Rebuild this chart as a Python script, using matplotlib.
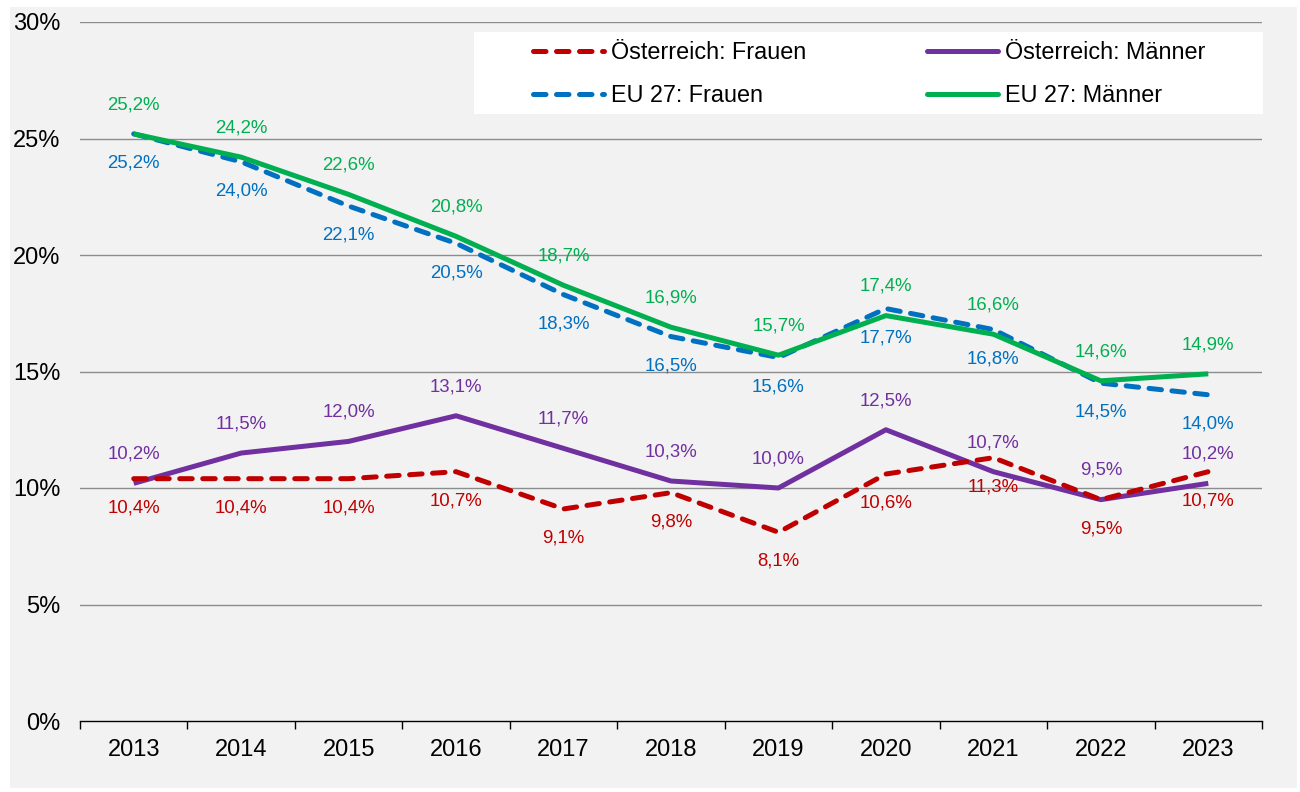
import matplotlib
matplotlib.use("Agg")
import matplotlib.pyplot as plt
from matplotlib.patches import Rectangle
from matplotlib.lines import Line2D

years = ["2013", "2014", "2015", "2016", "2017", "2018", "2019", "2020", "2021", "2022", "2023"]
at_frauen = [10.4, 10.4, 10.4, 10.7, 9.1, 9.8, 8.1, 10.6, 11.3, 9.5, 10.7]
at_maenner = [10.2, 11.5, 12.0, 13.1, 11.7, 10.3, 10.0, 12.5, 10.7, 9.5, 10.2]
eu_frauen = [25.2, 24.0, 22.1, 20.5, 18.3, 16.5, 15.6, 17.7, 16.8, 14.5, 14.0]
eu_maenner = [25.2, 24.2, 22.6, 20.8, 18.7, 16.9, 15.7, 17.4, 16.6, 14.6, 14.9]
yticks = [0, 5, 10, 15, 20, 25, 30]

plt.rcParams['font.family'] = ['Liberation Sans', 'DejaVu Sans']

W, H = 1300, 792
fig = plt.figure(figsize=(W / 100, H / 100), dpi=100, facecolor="white")
bg = "#f2f2f2"
fig.patches.append(Rectangle((10 / W, 1 - 788 / H), (1297 - 10) / W, (788 - 7) / H,
                             transform=fig.transFigure, facecolor=bg, edgecolor="none", zorder=-5))

ax = fig.add_axes([80 / W, 1 - 721 / H, (1262 - 80) / W, (721 - 22) / H])
ax.set_zorder(2)
ax.patch.set_visible(False)
x = list(range(len(years)))

red, purple, blue, green = "#C00000", "#7030A0", "#0070C0", "#00B050"
lw = 3.6
dash = (2.5, 2.1)
series = [
    ("Österreich: Männer", at_maenner, purple, "-", 1),
    ("Österreich: Frauen", at_frauen, red, "--", -1),
    ("EU 27: Frauen", eu_frauen, blue, "--", -1),
    ("EU 27: Männer", eu_maenner, green, "-", 1),
]
styles = {}
for name, vals, col, ls, side in series:
    if ls == "--":
        ax.plot(x, vals, color=col, lw=lw, dashes=dash, dash_capstyle="round",
                dash_joinstyle="miter", zorder=3)
    else:
        ax.plot(x, vals, color=col, lw=lw, solid_capstyle="butt", zorder=3)
    styles[name] = (col, ls)
    for xi, v in zip(x, vals):
        ax.annotate(f"{v:.1f}%".replace(".", ","), (xi, v), xytext=(0, 21 * side),
                    textcoords="offset points", ha="center", va="center",
                    fontsize=13.4, color=col, zorder=4)

ax.set_xlim(-0.5, len(years) - 0.5)
ax.set_ylim(0, 30)
ax.set_yticks(yticks)
ax.set_yticklabels([f"{t}%" for t in yticks])
ax.set_xticks(x)
ax.set_xticklabels(years)
ax.set_xticks([i - 0.5 for i in range(len(years) + 1)], minor=True)
ax.tick_params(axis="x", which="major", length=0, pad=13, labelsize=17)
ax.tick_params(axis="x", which="minor", length=6, width=1, direction="out", color="black")
ax.tick_params(axis="y", length=0, pad=14, labelsize=17)
for t in yticks[1:]:
    ax.axhline(t, color="#8c8c8c", lw=1.0, zorder=1)
for s in ["top", "right", "left"]:
    ax.spines[s].set_visible(False)
ax.spines["bottom"].set_color("black")
ax.spines["bottom"].set_linewidth(1.0)

# legend box
ax.add_patch(Rectangle((474 / W, 1 - 114 / H), (1263 - 474) / W, (114 - 32) / H,
                       transform=fig.transFigure, facecolor="white", edgecolor="none",
                       zorder=5, clip_on=False))
order = ["Österreich: Frauen", "EU 27: Frauen", "Österreich: Männer", "EU 27: Männer"]
leg_handles = []
for n in order:
    col, ls = styles[n]
    if ls == "--":
        leg_handles.append(Line2D([], [], color=col, lw=lw, dashes=dash, dash_capstyle="round"))
    else:
        leg_handles.append(Line2D([], [], color=col, lw=lw, solid_capstyle="round"))
leg = ax.legend(leg_handles, order, ncol=2, frameon=False, loc="center",
                bbox_to_anchor=(869 / W, 1 - 74 / H), bbox_transform=fig.transFigure,
                fontsize=16.8, handlelength=3.05, handletextpad=0.27, columnspacing=5.2,
                labelspacing=0.85)
leg.set_zorder(6)

fig.savefig("out.png", dpi=100, facecolor="white")
